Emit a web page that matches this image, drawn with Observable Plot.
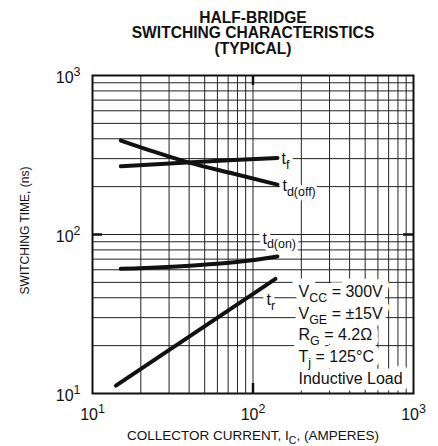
<!DOCTYPE html>
<html>
<head>
<meta charset="utf-8">
<script src="https://cdn.jsdelivr.net/npm/d3@7"></script>
<script src="https://cdn.jsdelivr.net/npm/@observablehq/plot@0.6"></script>
<style>
  html, body { margin: 0; padding: 0; background: #fff; }
</style>
</head>
<body>
<script>
// ---- data ----
const titleLines = ["HALF-BRIDGE", "SWITCHING CHARACTERISTICS", "(TYPICAL)"];
const xTitle = "COLLECTOR CURRENT, I_{C}, (AMPERES)";
const yTitle = "SWITCHING TIME, (ns)";
const xMajor = [10, 100, 1000];
const yMajor = [10, 100, 1000];
const majorLabels = ["10^{1}", "10^{2}", "10^{3}"];
const xGrid = [20, 30, 40, 50, 60, 70, 80, 90, 100, 200, 300, 400, 500, 600, 700, 800, 900];
const yGrid = [20, 30, 40, 50, 60, 70, 80, 90, 100, 200, 300, 400, 500, 600, 700, 800, 900];

// curves: collector current (A) vs switching time (ns)
const tfX = [15, 39, 76, 142];
const tfY = [269, 284, 294, 303];
const tdoffX = [15, 23, 39, 76, 142];
const tdoffY = [390, 337, 285, 241, 206];
const tdonX = [15, 47, 84, 142];
const tdonY = [60.8, 64.4, 67.6, 72.8];
const trX = [14, 47, 138];
const trY = [11.2, 25.4, 52.6];

const curveNames = ["t_{f}", "t_{d(off)}", "t_{d(on)}", "t_{r}"];
const legendLines = ["V_{CC} = 300V", "V_{GE} = ±15V", "R_{G} = 4.2Ω", "T_{j} = 125°C", "Inductive Load"];

// ---- build ----
const toRows = (xs, ys) => xs.map((x, i) => ({x, y: ys[i]}));
const curves = [toRows(tfX, tfY), toRows(tdoffX, tdoffY), toRows(tdonX, tdonY), toRows(trX, trY)];
const labelOffsets = [[4, 1], [5, 1], [-15, -18], [-9, 21]];

const W = 438, H = 446, ML = 92, MR = 25, MT = 75, MB = 53;
const PW = W - ML - MR, PH = H - MT - MB;
const font = "'Liberation Sans', Arial, Helvetica, sans-serif";
const ink = "#111";

const haloMarks = [], textMarks = [];
function haloText(data, opts, haloWidth) {
  haloMarks.push(Plot.text(data, {...opts, fill: "white", stroke: "white", strokeWidth: haloWidth, strokeLinejoin: "round"}));
  textMarks.push(Plot.text(data, {...opts, fill: ink}));
}

curves.forEach((rows, k) => {
  const end = rows[rows.length - 1];
  haloText([end], {
    x: "x", y: "y", text: () => curveNames[k],
    dx: labelOffsets[k][0], dy: labelOffsets[k][1],
    textAnchor: "start", lineAnchor: "middle", fontSize: 16
  }, 7);
});

legendLines.forEach((t, i) => {
  haloText([t], {
    text: d => d, frameAnchor: "bottom-right",
    dx: -115, dy: -14.8 - (legendLines.length - 1 - i) * 21.7,
    textAnchor: "start", lineAnchor: "middle", fontSize: 16
  }, 13);
});

const marks = [
  Plot.ruleX(xGrid, {stroke: "#222", strokeWidth: 1}),
  Plot.ruleY(yGrid, {stroke: "#222", strokeWidth: 1}),
  ...haloMarks,
  ...curves.map(rows => Plot.line(rows, {x: "x", y: "y", stroke: ink, strokeWidth: 4, curve: "monotone-x"})),
  ...textMarks,
  Plot.frame({stroke: ink, strokeWidth: 2}),
  Plot.tickX([100], {x: d => d, stroke: ink, strokeWidth: 2.5, insetBottom: PH - 10}),
  Plot.tickX([100], {x: d => d, stroke: ink, strokeWidth: 2.5, insetTop: PH - 10}),
  Plot.tickY([100], {y: d => d, stroke: ink, strokeWidth: 2.5, insetRight: PW - 10}),
  Plot.tickY([100], {y: d => d, stroke: ink, strokeWidth: 2.5, insetLeft: PW - 10}),
  Plot.axisX(xMajor, {tickSize: 0, tickPadding: 15, fontSize: 16, label: null, fill: ink,
    tickFormat: d => majorLabels[xMajor.indexOf(d)]}),
  Plot.axisY(yMajor, {tickSize: 0, tickPadding: 12, fontSize: 16, label: null, dy: 2, fill: ink,
    tickFormat: d => majorLabels[yMajor.indexOf(d)]}),
  Plot.text([xTitle], {text: d => d, frameAnchor: "bottom", dy: 42, fontSize: 13.5,
    textAnchor: "middle", lineAnchor: "middle", fill: ink}),
  Plot.text([yTitle], {text: d => d, frameAnchor: "left", rotate: -90, dx: -67, dy: -4, fontSize: 12,
    textAnchor: "middle", lineAnchor: "middle", fill: ink}),
  Plot.text([titleLines.join("\n")], {text: d => d, frameAnchor: "top", dy: -63, lineAnchor: "top",
    textAnchor: "middle", fontSize: 15.6, fontWeight: "bold", lineHeight: 0.97, fill: ink})
];

const chart = Plot.plot({
  width: W, height: H,
  marginLeft: ML, marginRight: MR, marginTop: MT, marginBottom: MB,
  style: {fontFamily: font, background: "white", color: ink},
  x: {type: "log", domain: [10, 1000]},
  y: {type: "log", domain: [10, 1000]},
  marks
});

// turn _{..} and ^{..} markup into sub/superscript tspans
const NS = "http://www.w3.org/2000/svg";
function richify(svg) {
  d3.select(svg).selectAll("text").each(function () {
    const el = this;
    if (el.children.length) return;
    const s = el.textContent;
    if (!/[_^]\{/.test(s)) return;
    const size = parseFloat(getComputedStyle(el).fontSize) || 16;
    el.textContent = "";
    const re = /([_^])\{([^}]*)\}/g;
    let last = 0, m, cur = 0;
    const add = (txt, shift, small) => {
      const t = document.createElementNS(NS, "tspan");
      t.textContent = txt;
      const d = shift - cur;
      if (d) t.setAttribute("dy", d.toFixed(2));
      if (small) t.setAttribute("font-size", (size * 0.78).toFixed(2));
      cur = shift;
      el.appendChild(t);
    };
    while ((m = re.exec(s))) {
      if (m.index > last) add(s.slice(last, m.index), 0, false);
      add(m[2], m[1] === "_" ? size * 0.3 : -size * 0.42, true);
      last = re.lastIndex;
    }
    if (last < s.length) add(s.slice(last), 0, false);
  });
}
document.body.appendChild(chart);
richify(chart);
</script>
</body>
</html>
